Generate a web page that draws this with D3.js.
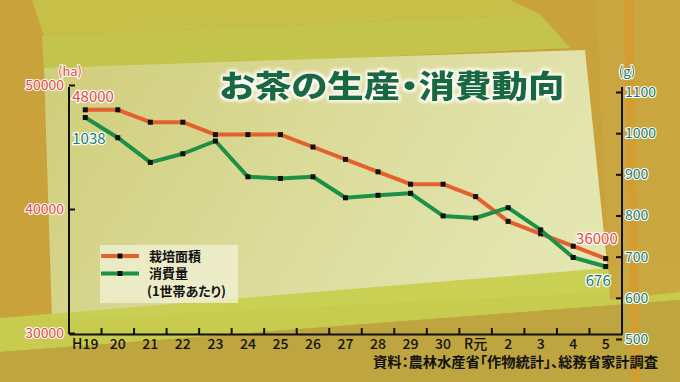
<!DOCTYPE html>
<html>
<head>
<meta charset="utf-8">
<script src="https://cdn.jsdelivr.net/npm/d3@7"></script>
<style>
  html, body { margin: 0; padding: 0; background: #c9a23c; }
  svg { display: block; }
  text { font-family: "Noto Sans CJK JP", "Noto Sans", sans-serif; font-feature-settings: "palt"; }
</style>
</head>
<body>
<div id="chart"></div>
<script>
// data
var years = ['H19','20','21','22','23','24','25','26','27','28','29','30','R元','2','3','4','5'];
var areaHa = [48000,48000,47000,47000,46000,46000,46000,45000,44000,43000,42000,42000,41000,39000,38000,37000,36000];
var consumptionG = [1038,989,929,950,981,894,890,894,843,849,854,799,794,819,765,698,676];
var leftTicks = [30000,40000,50000];
var rightTicks = [500,600,700,800,900,1000,1100];

var W = 680, H = 382;
var margin = {top: 87, right: 58, bottom: 48, left: 69};

var svg = d3.select('#chart')
    .append('svg')
    .attr('width', W)
    .attr('height', H);

var defs = svg.append('defs');

var pale = defs.append('linearGradient').attr('id', 'pale')
    .attr('x1', '0').attr('y1', '0').attr('x2', '1').attr('y2', '0.3');
pale.append('stop').attr('offset', '0').attr('stop-color', '#d0cf7c');
pale.append('stop').attr('offset', '0.6').attr('stop-color', '#dddfa2');
pale.append('stop').attr('offset', '1').attr('stop-color', '#e5e9b6');

var glow = defs.append('filter').attr('id', 'glow')
    .attr('x', '-10%').attr('y', '-30%').attr('width', '120%').attr('height', '160%');
glow.append('feMorphology').attr('in', 'SourceAlpha').attr('operator', 'dilate').attr('radius', 1.5).attr('result', 'd');
glow.append('feGaussianBlur').attr('in', 'd').attr('stdDeviation', 1.5).attr('result', 'b');
glow.append('feFlood').attr('flood-color', '#ffffff').attr('flood-opacity', 0.95);
glow.append('feComposite').attr('in2', 'b').attr('operator', 'in').attr('result', 'g');
var gm = glow.append('feMerge');
gm.append('feMergeNode').attr('in', 'g');
gm.append('feMergeNode').attr('in', 'SourceGraphic');

// background stripes (decoration only)
var bg = svg.append('g');
bg.append('rect').attr('width', W).attr('height', H).attr('fill', '#c9a23c');
var shapes = [
    {p: [[32,0],[510,0],[540,14],[44,36]], c: '#c6c24a'},
    {p: [[42,36],[540,14],[570,48],[44,72]], c: '#c3c64c'},
    {p: [[44,68],[585,50],[610,292],[52,320]], c: 'url(#pale)'},
    {p: [[0,318],[680,262],[680,300],[0,352]], c: '#c7cf4f'},
    {p: [[0,352],[680,300],[680,382],[0,382]], c: '#bea540'},
    {p: [[596,0],[680,0],[680,292],[610,300]], c: '#c9a63f'},
    {p: [[624,0],[633,0],[640,382],[631,382]], c: '#d59c30'}
];
bg.selectAll('polygon')
    .data(shapes)
    .enter().append('polygon')
    .attr('points', function(d){ return d.p.map(function(q){ return q.join(','); }).join(' '); })
    .attr('fill', function(d){ return d.c; })
    .attr('opacity', 0.95);

var x = d3.scaleBand()
    .domain(years)
    .range([margin.left, W - margin.right]);

var yL = d3.scaleLinear()
    .domain([30000, 50000])
    .range([H - margin.bottom - 1, margin.top - 2]);

var yR = d3.scaleLinear()
    .domain([500, 1100])
    .range([H - margin.bottom + 5, margin.top + 5]);

// title
svg.append('text')
    .attr('x', 392)
    .attr('y', 97)
    .attr('text-anchor', 'middle')
    .attr('font-size', 31)
    .attr('font-weight', 900)
    .attr('textLength', 345)
    .attr('lengthAdjust', 'spacingAndGlyphs')
    .attr('fill', '#14693f')
    .attr('filter', 'url(#glow)')
    .text('お茶の生産・消費動向');

// legend box
var legend = svg.append('g');
legend.append('rect')
    .attr('x', 100).attr('y', 245)
    .attr('width', 138).attr('height', 58)
    .attr('fill', '#f1f1d8')
    .attr('opacity', 0.75);
var legendItems = [
    {label: '栽培面積', color: '#e4602e', y: 256},
    {label: '消費量', color: '#1d8f47', y: 273.5}
];
legendItems.forEach(function(d){
    legend.append('line')
        .attr('x1', 101).attr('x2', 139)
        .attr('y1', d.y).attr('y2', d.y)
        .attr('stroke', d.color).attr('stroke-width', 4);
    legend.append('rect')
        .attr('x', 117.5).attr('y', d.y - 2.5)
        .attr('width', 5).attr('height', 5)
        .attr('fill', '#111');
    legend.append('text')
        .attr('x', 149).attr('y', d.y + 4.5)
        .attr('font-size', 13).attr('font-weight', 700)
        .attr('fill', '#111')
        .text(d.label);
});
legend.append('text')
    .attr('x', 147).attr('y', 296)
    .attr('font-size', 13).attr('font-weight', 700)
    .attr('fill', '#111')
    .text('(1世帯あたり)');

// axes
var leftAxis = svg.append('g')
    .attr('transform', 'translate(' + margin.left + ',0)')
    .call(d3.axisLeft(yL).tickValues(leftTicks).tickSizeInner(-6).tickSizeOuter(0).tickPadding(5).tickFormat(d3.format('d')));

var rightAxis = svg.append('g')
    .attr('transform', 'translate(' + (W - margin.right) + ',0)')
    .call(d3.axisRight(yR).tickValues(rightTicks).tickSizeInner(-6).tickSizeOuter(0).tickPadding(3).tickFormat(d3.format('d')));

var bottomAxis = svg.append('g')
    .attr('transform', 'translate(0,' + (H - margin.bottom) + ')')
    .call(d3.axisBottom(x).tickSize(0).tickPadding(5));

[leftAxis, rightAxis, bottomAxis].forEach(function(a){
    a.select('.domain').attr('stroke', '#111').attr('stroke-width', 2);
    a.selectAll('.tick line').attr('stroke', '#111').attr('stroke-width', 2);
});
// the axis frame spans the full plot height
leftAxis.select('.domain').attr('d', 'M0,' + (margin.top) + 'V' + (H - margin.bottom));
rightAxis.select('.domain').attr('d', 'M0,' + (margin.top) + 'V' + (H - margin.bottom));

leftAxis.selectAll('text')
    .attr('font-size', 14)
    .attr('fill', '#e5473c')
    .attr('stroke', '#fff').attr('stroke-width', 2.2)
    .attr('paint-order', 'stroke');
rightAxis.selectAll('text')
    .attr('font-size', 14)
    .attr('fill', '#187a6c')
    .attr('stroke', '#fff').attr('stroke-width', 2.2)
    .attr('paint-order', 'stroke');
bottomAxis.selectAll('text')
    .attr('font-size', 14)
    .attr('font-weight', 500)
    .attr('fill', '#111');

// ticks between categories on the bottom axis
svg.append('g')
    .selectAll('line')
    .data(years.slice(1))
    .enter().append('line')
    .attr('x1', function(d){ return x(d); })
    .attr('x2', function(d){ return x(d); })
    .attr('y1', H - margin.bottom)
    .attr('y2', H - margin.bottom - 6)
    .attr('stroke', '#111')
    .attr('stroke-width', 2);

// units
svg.append('text')
    .attr('x', 70).attr('y', 76)
    .attr('text-anchor', 'middle')
    .attr('font-size', 13)
    .attr('fill', '#e5473c')
    .attr('stroke', '#fff').attr('stroke-width', 2).attr('paint-order', 'stroke')
    .text('(ha)');
svg.append('text')
    .attr('x', 627).attr('y', 76)
    .attr('text-anchor', 'middle')
    .attr('font-size', 13)
    .attr('fill', '#187a6c')
    .attr('stroke', '#fff').attr('stroke-width', 2).attr('paint-order', 'stroke')
    .text('(g)');

// lines
function cx(d, i){ return x(years[i]) + x.bandwidth() / 2; }

var series = [
    {values: areaHa, scale: yL, color: '#e4602e'},
    {values: consumptionG, scale: yR, color: '#1d8f47'}
];
series.forEach(function(s){
    var line = d3.line()
        .x(cx)
        .y(function(d){ return s.scale(d); });
    svg.append('path')
        .datum(s.values)
        .attr('d', line)
        .attr('fill', 'none')
        .attr('stroke', s.color)
        .attr('stroke-width', 4)
        .attr('stroke-linejoin', 'round');
    svg.append('g')
        .selectAll('rect')
        .data(s.values)
        .enter().append('rect')
        .attr('x', function(d, i){ return cx(d, i) - 2.5; })
        .attr('y', function(d){ return s.scale(d) - 2.5; })
        .attr('width', 5)
        .attr('height', 5)
        .attr('fill', '#111');
});

// value labels at both ends
var last = years.length - 1;
var endLabels = [
    {t: areaHa[0], x: cx(0, 0) - 13, y: yL(areaHa[0]) - 8, a: 'start', c: '#e5473c'},
    {t: consumptionG[0], x: cx(0, 0) - 13, y: yR(consumptionG[0]) + 26, a: 'start', c: '#187a6c'},
    {t: areaHa[last], x: cx(0, last) + 12, y: yL(areaHa[last]) - 15, a: 'end', c: '#e5473c'},
    {t: consumptionG[last], x: cx(0, last) + 5, y: yR(consumptionG[last]) + 19, a: 'end', c: '#187a6c'}
];
svg.append('g')
    .selectAll('text')
    .data(endLabels)
    .enter().append('text')
    .attr('x', function(d){ return d.x; })
    .attr('y', function(d){ return d.y; })
    .attr('text-anchor', function(d){ return d.a; })
    .attr('font-size', 15)
    .attr('fill', function(d){ return d.c; })
    .attr('stroke', '#fff').attr('stroke-width', 2.4).attr('paint-order', 'stroke')
    .text(function(d){ return d.t; });

// source
svg.append('text')
    .attr('x', 373)
    .attr('y', 367)
    .attr('font-size', 14)
    .attr('font-weight', 700)
    .attr('textLength', 285)
    .attr('lengthAdjust', 'spacingAndGlyphs')
    .attr('fill', '#111')
    .text('資料：農林水産省「作物統計」、総務省家計調査');
</script>
</body>
</html>
